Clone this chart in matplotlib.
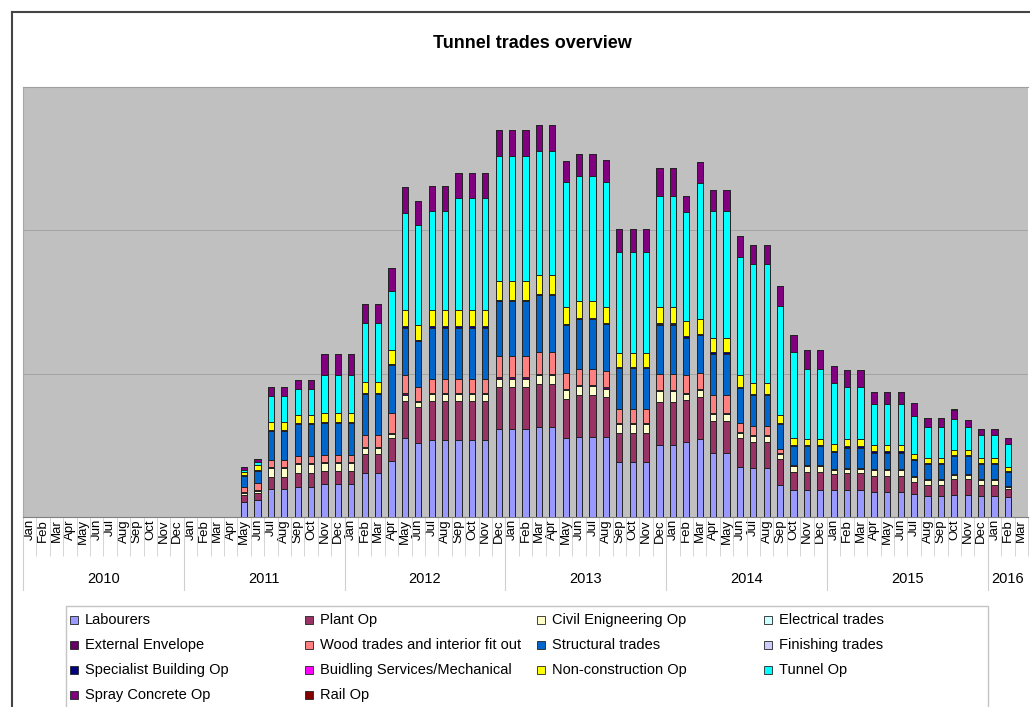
import matplotlib.pyplot as plt
import numpy as np
from matplotlib.patches import Rectangle
from matplotlib.lines import Line2D
import matplotlib.transforms as mtransforms

plt.rcParams['font.family'] = ['Liberation Sans', 'DejaVu Sans']

# categories: monthly, Jan 2010 .. Mar 2016
month_names = ['Jan', 'Feb', 'Mar', 'Apr', 'May', 'Jun',
               'Jul', 'Aug', 'Sep', 'Oct', 'Nov', 'Dec']
years = [2010, 2011, 2012, 2013, 2014, 2015, 2016]
months_in_year = [12, 12, 12, 12, 12, 12, 3]
first_month = ('May', 2011)   # first month with data (runs to Feb 2016)

# headcount per trade, May 2011 .. Feb 2016
labourers = [52, 60, 98, 98, 105, 105, 115, 115, 115, 154, 154, 196, 276, 259,
             270, 270, 270, 270, 270, 308, 308, 308, 315, 315, 276, 280, 280, 280,
             192, 192, 192, 252, 252, 262, 273, 224, 224, 175, 172, 172, 112, 94,
             94, 94, 94, 94, 94, 88, 88, 88, 80, 74, 74, 77, 77, 74, 74, 70]
plant_op = [25, 25, 42, 42, 49, 49, 45, 45, 45, 66, 66, 80, 130, 126,
            136, 136, 136, 136, 136, 147, 147, 147, 150, 150, 136, 147, 147, 140,
            101, 101, 101, 150, 150, 147, 147, 112, 112, 101, 88, 88, 91, 63,
            63, 63, 56, 60, 60, 56, 56, 56, 42, 38, 38, 56, 56, 38, 38, 28]
civil_eng_op = [6, 6, 31, 31, 31, 31, 28, 28, 28, 21, 21, 14, 21, 17,
                24, 24, 24, 24, 24, 28, 28, 28, 31, 31, 31, 31, 31, 28,
                31, 31, 31, 38, 38, 21, 24, 24, 24, 17, 21, 21, 17, 21,
                21, 21, 14, 14, 14, 21, 21, 21, 17, 17, 17, 14, 14, 17, 17, 6]
electrical = [0, 0, 0, 0, 0, 0, 0, 0, 0, 0, 0, 0, 0, 0,
              0, 0, 0, 0, 0, 0, 0, 0, 0, 0, 0, 0, 0, 0,
              0, 0, 0, 0, 0, 0, 0, 0, 0, 0, 0, 0, 0, 0,
              0, 0, 0, 0, 0, 0, 0, 0, 0, 0, 0, 0, 0, 0, 0, 0]
external_env = [4, 4, 4, 4, 4, 4, 4, 4, 4, 4, 4, 4, 4, 4,
                4, 4, 4, 4, 4, 4, 4, 4, 4, 4, 4, 4, 4, 4,
                4, 4, 4, 4, 4, 4, 4, 4, 4, 4, 4, 4, 4, 4,
                4, 4, 4, 4, 4, 4, 4, 4, 4, 4, 4, 4, 4, 4, 4, 4]
wood_fitout = [18, 25, 25, 25, 25, 25, 25, 25, 25, 42, 42, 70, 66, 49,
               49, 49, 49, 49, 49, 74, 74, 74, 74, 74, 56, 56, 56, 56,
               49, 49, 49, 56, 56, 60, 56, 60, 60, 32, 32, 32, 14, 0,
               0, 0, 0, 0, 0, 0, 0, 0, 0, 0, 0, 0, 0, 0, 0, 0]
structural = [38, 41, 101, 101, 111, 111, 111, 111, 111, 143, 143, 167, 164, 160,
              178, 178, 178, 178, 178, 192, 192, 192, 199, 199, 167, 171, 171, 164,
              143, 143, 143, 171, 171, 132, 132, 146, 146, 122, 108, 108, 87, 66,
              66, 66, 59, 70, 70, 56, 56, 56, 56, 52, 52, 62, 62, 52, 52, 48]
finishing = [0, 0, 0, 0, 0, 0, 0, 0, 0, 0, 0, 0, 0, 0,
             0, 0, 0, 0, 0, 0, 0, 0, 0, 0, 0, 0, 0, 0,
             0, 0, 0, 0, 0, 0, 0, 0, 0, 0, 0, 0, 0, 0,
             0, 0, 0, 0, 0, 0, 0, 0, 0, 0, 0, 0, 0, 0, 0, 0]
specialist = [4, 4, 4, 4, 4, 4, 4, 4, 4, 4, 4, 4, 4, 4,
              4, 4, 4, 4, 4, 4, 4, 4, 4, 4, 4, 4, 4, 4,
              4, 4, 4, 4, 4, 4, 4, 4, 4, 4, 4, 4, 4, 4,
              4, 4, 4, 4, 4, 4, 4, 4, 4, 4, 4, 4, 4, 4, 4, 4]
services_mech = [0, 0, 0, 0, 0, 0, 0, 0, 0, 0, 0, 0, 0, 0,
                 0, 0, 0, 0, 0, 0, 0, 0, 0, 0, 0, 0, 0, 0,
                 0, 0, 0, 0, 0, 0, 0, 0, 0, 0, 0, 0, 0, 0,
                 0, 0, 0, 0, 0, 0, 0, 0, 0, 0, 0, 0, 0, 0, 0, 0]
non_construction = [10, 18, 25, 25, 28, 28, 32, 32, 32, 38, 38, 49, 56, 52,
                    56, 56, 56, 56, 56, 66, 66, 66, 66, 66, 60, 60, 60, 56,
                    49, 49, 49, 56, 56, 52, 52, 49, 49, 42, 38, 38, 28, 25,
                    21, 21, 25, 25, 25, 21, 21, 21, 18, 18, 18, 18, 18, 18, 18, 14]
tunnel_op = [7, 10, 91, 91, 88, 88, 133, 133, 133, 206, 206, 206, 340, 346,
             346, 346, 392, 392, 392, 438, 438, 438, 434, 434, 434, 438, 438, 438,
             350, 350, 350, 388, 388, 381, 472, 444, 444, 410, 416, 416, 378, 298,
             245, 245, 210, 182, 182, 144, 144, 144, 133, 108, 108, 108, 80, 80, 80, 80]
spray_concrete = [10, 10, 32, 32, 32, 32, 70, 70, 70, 66, 66, 80, 91, 84,
                  88, 88, 88, 88, 88, 88, 88, 88, 91, 91, 74, 74, 74, 74,
                  80, 80, 80, 98, 98, 56, 74, 74, 74, 74, 66, 66, 70, 60,
                  63, 63, 60, 60, 60, 42, 42, 42, 42, 32, 32, 32, 25, 21, 21, 21]
rail_op = [0, 0, 0, 0, 0, 0, 0, 0, 0, 0, 0, 0, 0, 0,
           0, 0, 0, 0, 0, 0, 0, 0, 0, 0, 0, 0, 0, 0,
           0, 0, 0, 0, 0, 0, 0, 0, 0, 0, 0, 0, 0, 0,
           0, 0, 0, 0, 0, 0, 0, 0, 0, 0, 0, 0, 0, 0, 0, 0]

series = [
    ('Labourers', labourers, '#9999FF'),
    ('Plant Op', plant_op, '#993366'),
    ('Civil Enigneering Op', civil_eng_op, '#FFFFCC'),
    ('Electrical trades', electrical, '#CCFFFF'),
    ('External Envelope', external_env, '#660066'),
    ('Wood trades and interior fit out', wood_fitout, '#FF8080'),
    ('Structural trades', structural, '#0066CC'),
    ('Finishing trades', finishing, '#CCCCFF'),
    ('Specialist Building Op', specialist, '#000080'),
    ('Buidling Services/Mechanical', services_mech, '#FF00FF'),
    ('Non-construction Op', non_construction, '#FFFF00'),
    ('Tunnel Op', tunnel_op, '#00FFFF'),
    ('Spray Concrete Op', spray_concrete, '#800080'),
    ('Rail Op', rail_op, '#800000'),
]

# category axis
cats = []
for yr, n in zip(years, months_in_year):
    for m in month_names[:n]:
        cats.append((m, yr))
n_cat = len(cats)
start = cats.index(first_month)
x = np.arange(start, start + len(labourers))

W, H = 1030, 707
fig = plt.figure(figsize=(W / 100, H / 100), dpi=100)
ax = fig.add_axes([23 / W, (H - 517) / H, 1005 / W, 430 / H])
ax.set_facecolor('#c0c0c0')

bottom = np.zeros(len(x))
for name, vals, col in series:
    vals = np.array(vals, dtype=float)
    ax.bar(x, vals, width=0.45, bottom=bottom, color=col,
           edgecolor='#222222', linewidth=0.7, zorder=3)
    bottom += vals

ax.set_xlim(-0.5, n_cat - 0.5)
ax.set_ylim(0, 1500)
ax.set_yticks([0, 500, 1000, 1500])
ax.yaxis.grid(True, color='#a4a4a4', linewidth=0.7)
ax.tick_params(axis='y', left=False, labelleft=False)

ax.set_xticks(np.arange(n_cat), labels=[m for m, _ in cats],
              rotation=90, fontsize=9.5)
ax.tick_params(axis='x', which='major', length=0, pad=1.5)
ax.set_xticks(np.arange(n_cat + 1) - 0.5, minor=True)
ax.tick_params(axis='x', which='minor', length=28, width=0.6, color='#cfcfcf')

ax.spines['top'].set_color('#a0a0a0')
ax.spines['right'].set_visible(False)
ax.spines['left'].set_color('#a8a8a8')
ax.spines['bottom'].set_color('#808080')

# year row of the category axis
trans = mtransforms.blended_transform_factory(ax.transData, ax.transAxes)
pos = 0
for yr, n in zip(years, months_in_year):
    ax.plot([pos - 0.5, pos - 0.5], [0, -0.17], transform=trans,
            color='#cfcfcf', linewidth=0.8, clip_on=False)
    ax.text(pos + (n - 1) / 2, -0.144, str(yr), transform=trans,
            ha='center', va='center', fontsize=10.5)
    pos += n

fig.text(532 / W, 1 - 44 / H, 'Tunnel trades overview', ha='center',
         va='center', fontsize=13, fontweight='bold')

# chart frame (cropped at right and bottom)
fig.add_artist(Line2D([12 / W, 12 / W], [0, 1 - 12 / H], color='#444444', lw=1.5))
fig.add_artist(Line2D([12 / W, 1], [1 - 12 / H, 1 - 12 / H], color='#444444', lw=1.5))

# legend box, laid out in 4 columns row by row
fig.add_artist(Rectangle((66 / W, -0.05), (988 - 66) / W, 0.05 + (H - 606) / H,
                         transform=fig.transFigure, facecolor='white',
                         edgecolor='#c4c4c4', linewidth=1.0))
col_x = [70, 305, 537, 764]
row_y = [620, 645, 670, 695]
for k, (name, vals, col) in enumerate(series):
    cx = col_x[k % 4]
    cy = row_y[k // 4]
    fig.add_artist(Rectangle((cx / W, 1 - (cy + 4) / H), 8 / W, 8 / H,
                             transform=fig.transFigure, facecolor=col,
                             edgecolor='#222222', linewidth=0.6))
    fig.text((cx + 15) / W, 1 - cy / H, name, ha='left', va='center',
             fontsize=10.5)

fig.savefig('out.png', dpi=100)
